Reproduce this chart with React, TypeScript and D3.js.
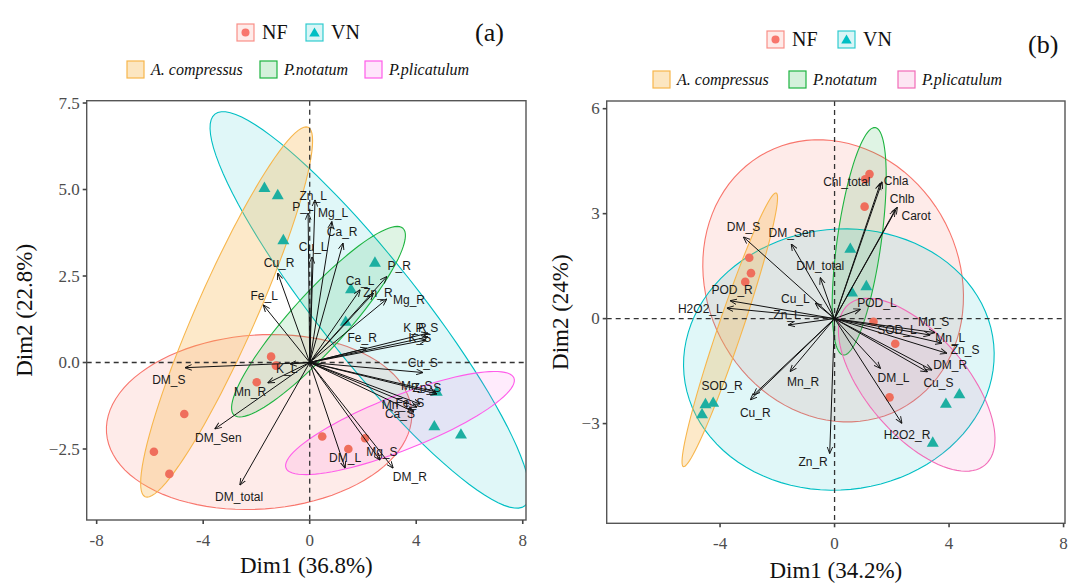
import React from 'react';
import * as d3 from 'd3';

// individuals: [treatment, species, Dim1, Dim2]
const indA = [
  ['NF', 'A. compressus', -4.71, -1.49],
  ['NF', 'A. compressus', -5.85, -2.58],
  ['NF', 'A. compressus', -5.27, -3.22],
  ['NF', 'P.notatum', -1.45, 0.17],
  ['NF', 'P.notatum', -1.27, -0.09],
  ['NF', 'P.notatum', -1.99, -0.57],
  ['NF', 'P.plicatulum', 0.47, -2.14],
  ['NF', 'P.plicatulum', 1.45, -2.5],
  ['NF', 'P.plicatulum', 2.08, -2.19],
  ['VN', 'A. compressus', -1.7, 5.03],
  ['VN', 'A. compressus', -1.2, 4.82],
  ['VN', 'A. compressus', -0.99, 3.52],
  ['VN', 'P.notatum', 1.55, 2.1],
  ['VN', 'P.notatum', 2.45, 2.87],
  ['VN', 'P.notatum', 1.35, 1.16],
  ['VN', 'P.plicatulum', 4.77, -0.86],
  ['VN', 'P.plicatulum', 4.68, -1.86],
  ['VN', 'P.plicatulum', 5.68, -2.1],
];

const indB = [
  ['NF', 'A. compressus', -2.98, 1.74],
  ['NF', 'A. compressus', -2.92, 1.3],
  ['NF', 'A. compressus', -3.12, 1.05],
  ['NF', 'P.notatum', 1.22, 4.13],
  ['NF', 'P.notatum', 1.07, 3.98],
  ['NF', 'P.notatum', 1.05, 3.2],
  ['NF', 'P.plicatulum', 1.36, -0.09],
  ['NF', 'P.plicatulum', 2.12, -0.72],
  ['NF', 'P.plicatulum', 1.92, -2.25],
  ['VN', 'A. compressus', -4.51, -2.46],
  ['VN', 'A. compressus', -4.24, -2.42],
  ['VN', 'A. compressus', -4.63, -2.75],
  ['VN', 'P.notatum', 0.55, 1.98],
  ['VN', 'P.notatum', 1.11, 0.91],
  ['VN', 'P.notatum', 0.61, 0.73],
  ['VN', 'P.plicatulum', 4.36, -2.18],
  ['VN', 'P.plicatulum', 3.89, -2.45],
  ['VN', 'P.plicatulum', 3.43, -3.56],
];

// variables: [name, arrow x, arrow y, label x, label y]
const varsA = [
  ['Zn_L', 0.2, 4.7, 0.13, 4.8],
  ['P_L', -0.06, 4.32, -0.25, 4.5],
  ['Mg_L', 0.83, 4.07, 0.88, 4.32],
  ['Ca_R', 1.25, 3.45, 1.22, 3.77],
  ['Cu_L', 0.09, 3.05, 0.13, 3.34],
  ['Cu_R', -1.2, 2.58, -1.15, 2.87],
  ['Fe_L', -1.74, 1.66, -1.71, 1.92],
  ['Ca_L', 1.89, 2.1, 1.89, 2.36],
  ['P_R', 2.89, 2.48, 3.36, 2.79],
  ['Zn_R', 2.39, 2.0, 2.56, 2.02],
  ['Mg_R', 2.89, 1.83, 3.73, 1.81],
  ['Fe_R', 2.14, 0.41, 1.97, 0.71],
  ['K_R', 4.44, 0.74, 3.95, 0.99],
  ['P_S', 4.44, 0.85, 4.4, 0.99],
  ['K_S', 4.37, 0.65, 4.14, 0.71],
  ['Cu_S', 4.25, -0.29, 4.25, 0.0],
  ['Mn_S', 4.74, -0.85, 4.02, -0.69],
  ['Zn_S', 4.78, -0.91, 4.4, -0.74],
  ['Fe_S', 4.14, -1.2, 3.76, -1.17],
  ['Mn_L', 4.03, -1.29, 3.27, -1.23],
  ['Ca_S', 3.91, -1.43, 3.39, -1.49],
  ['Mg_S', 2.64, -2.82, 2.71, -2.58],
  ['DM_L', 1.33, -3.05, 1.33, -2.76],
  ['DM_R', 3.13, -3.05, 3.76, -3.3],
  ['K_L', -0.74, -0.04, -0.86, -0.19],
  ['Mn_R', -1.57, -0.59, -2.24, -0.85],
  ['DM_S', -4.68, -0.15, -5.29, -0.51],
  ['DM_Sen', -3.56, -1.92, -3.43, -2.19],
  ['DM_total', -2.62, -3.54, -2.65, -3.88],
];

const varsB = [
  ['Chl_total', 1.6, 3.87, 0.43, 3.9],
  ['Chla', 1.66, 3.91, 2.15, 3.94],
  ['Chlb', 2.19, 3.18, 2.36, 3.41],
  ['Carot', 2.12, 3.11, 2.85, 2.94],
  ['DM_S', -3.18, 2.33, -3.18, 2.61],
  ['DM_Sen', -1.51, 2.13, -1.49, 2.44],
  ['DM_total', -0.5, 1.17, -0.5, 1.49],
  ['POD_R', -3.64, 0.51, -3.58, 0.82],
  ['H2O2_L', -3.76, 0.3, -4.69, 0.27],
  ['Cu_L', -0.67, 0.44, -1.37, 0.55],
  ['Zn_L', -1.61, -0.18, -1.66, 0.11],
  ['POD_L', 0.9, 0.27, 1.48, 0.44],
  ['SOD_L', 3.34, -0.47, 2.18, -0.32],
  ['Mn_S', 3.51, -0.4, 3.46, -0.09],
  ['Mn_L', 3.75, -0.7, 4.04, -0.56],
  ['Zn_S', 3.92, -0.99, 4.56, -0.89],
  ['DM_R', 3.4, -1.47, 4.04, -1.32],
  ['Cu_S', 3.24, -1.52, 3.63, -1.85],
  ['DM_L', 1.6, -1.42, 2.06, -1.7],
  ['H2O2_R', 2.35, -2.99, 2.53, -3.34],
  ['Zn_R', -0.17, -3.85, -0.75, -4.11],
  ['Mn_R', -1.55, -1.51, -1.1, -1.82],
  ['Cu_R', -2.94, -2.32, -2.77, -2.7],
  ['SOD_R', -2.83, -2.18, -3.93, -1.94],
];

// confidence ellipses: [group, centre x, centre y, axis1 x, axis1 y, axis2 x, axis2 y]
const ellA = [
  ['NF', -1.9, -1.72, 5.73, 0.31, 0.23, -2.51],
  ['VN', 2.26, 1.52, 5.82, -5.66, 1.47, 0.9],
  ['A. compressus', -3.12, 1.46, 3.06, 5.34, 1.03, -0.35],
  ['P.notatum', 0.33, 1.18, 3.17, 2.7, 0.78, -0.54],
  ['P.plicatulum', 3.39, -1.75, 4.28, 1.3, 0.37, -0.73],
];

const ellB = [
  ['NF', -0.05, 1.08, -0.35, 4.03, 4.54, -0.14],
  ['VN', 0.15, -1.17, 5.41, 0.43, 0.42, -3.71],
  ['A. compressus', -3.66, -0.32, 1.62, 3.91, 0.4, -0.11],
  ['P.notatum', 0.86, 2.21, 0.56, 3.25, 0.76, -0.09],
  ['P.plicatulum', 2.87, -1.89, 2.39, -2.29, 1.33, 0.93],
];

const treatments = ['NF', 'VN'];
const species = ['A. compressus', 'P.notatum', 'P.plicatulum'];

const strokeCol = {
  NF: '#F8766D', VN: '#00BFC4',
  'A. compressus': '#F7B64C', 'P.notatum': '#1DB440', 'P.plicatulum': '#FF5CEA',
};
const fillAlpha = {
  NF: 0.15, VN: 0.12, 'A. compressus': 0.3, 'P.notatum': 0.14, 'P.plicatulum': 0.12,
};
const pointCol = { NF: '#EF6E5C', VN: '#1DAFA1' };

const serif = '"Liberation Serif", "DejaVu Serif", serif';
const sans = '"Liberation Sans", Arial, sans-serif';

function ellipsePath(e, x, y) {
  const [, cx, cy, ax, ay, bx, by] = e;
  const pts = d3.range(0, 97).map(i => {
    const t = (i / 96) * 2 * Math.PI;
    return [cx + ax * Math.cos(t) + bx * Math.sin(t), cy + ay * Math.cos(t) + by * Math.sin(t)];
  });
  return d3.line().x(d => x(d[0])).y(d => y(d[1])).curve(d3.curveLinearClosed)(pts);
}

const Biplot = ({ id, ind, vars, ells, xDom, yDom, box, xTicks, yTicks, yFmt, xTitle, yTitle, yTitleX, xTitleY, ppCol }) => {
  const [l, t, r, b] = box;
  const x = d3.scaleLinear().domain(xDom).range([l, r]);
  const y = d3.scaleLinear().domain(yDom).range([b, t]);
  const col = g => (g === 'P.plicatulum' && ppCol ? ppCol : strokeCol[g]);
  const tri = d3.symbol(d3.symbolTriangle, 62)();

  return (
    <g>
      <defs>
        <clipPath id={`clip-${id}`}>
          <rect x={l} y={t} width={r - l} height={b - t} />
        </clipPath>
        <marker id={`arr-${id}`} viewBox="0 0 10 10" refX="9.5" refY="5" markerWidth="7" markerHeight="7" orient="auto">
          <path d="M0,1 L10,5 L0,9" fill="none" stroke="#111" strokeWidth="1.3" />
        </marker>
      </defs>
      <g clipPath={`url(#clip-${id})`}>
        {ells.map(e => (
          <path key={e[0]} d={ellipsePath(e, x, y)} fill={col(e[0])} fillOpacity={fillAlpha[e[0]]}
            stroke={col(e[0])} strokeWidth={1.1} />
        ))}
        <line x1={x(0)} x2={x(0)} y1={t} y2={b} stroke="#333" strokeWidth={1.3} strokeDasharray="5,4" />
        <line x1={l} x2={r} y1={y(0)} y2={y(0)} stroke="#333" strokeWidth={1.3} strokeDasharray="5,4" />
        {ind.map((p, i) => p[0] === 'NF'
          ? <circle key={i} cx={x(p[2])} cy={y(p[3])} r={4.3} fill={pointCol.NF} />
          : <path key={i} d={tri} transform={`translate(${x(p[2])},${y(p[3])})`} fill={pointCol.VN} />
        )}
        {vars.map(v => (
          <line key={v[0]} x1={x(0)} y1={y(0)} x2={x(v[1])} y2={y(v[2])} stroke="#111" strokeWidth={1}
            markerEnd={`url(#arr-${id})`} />
        ))}
        {vars.map(v => (
          <text key={v[0]} x={x(v[3])} y={y(v[4])} textAnchor="middle" dominantBaseline="central"
            fontFamily={sans} fontSize={12} fill="#1a1a1a">{v[0]}</text>
        ))}
      </g>
      <rect x={l} y={t} width={r - l} height={b - t} fill="none" stroke="#555" strokeWidth={1.4} />
      {yTicks.map(v => (
        <g key={v}>
          <line x1={l - 4} x2={l} y1={y(v)} y2={y(v)} stroke="#444" strokeWidth={1.6} />
          <text x={l - 7} y={y(v)} textAnchor="end" dominantBaseline="central" fontFamily={serif}
            fontSize={17} fill="#4d4d4d">{yFmt(v)}</text>
        </g>
      ))}
      {xTicks.map(v => (
        <g key={v}>
          <line x1={x(v)} x2={x(v)} y1={b} y2={b + 4} stroke="#444" strokeWidth={1.6} />
          <text x={x(v)} y={b + 26} textAnchor="middle" fontFamily={serif} fontSize={17} fill="#4d4d4d">{v}</text>
        </g>
      ))}
      <text x={(l + r) / 2} y={xTitleY} textAnchor="middle" fontFamily={serif} fontSize={23} fill="#111">{xTitle}</text>
      <text transform={`translate(${yTitleX},${(t + b) / 2}) rotate(-90)`} textAnchor="middle"
        dominantBaseline="central" fontFamily={serif} fontSize={23} fill="#111">{yTitle}</text>
    </g>
  );
};

const Legend = ({ row1, row2, ppCol }) => {
  const tri = d3.symbol(d3.symbolTriangle, 48)();
  const col = g => (g === 'P.plicatulum' && ppCol ? ppCol : strokeCol[g]);
  return (
    <g>
      {treatments.map((g, i) => (
        <g key={g} transform={`translate(${row1.xs[i]},${row1.y})`}>
          <rect x={0} y={0} width={17} height={17} fill={strokeCol[g]} fillOpacity={0.15}
            stroke={strokeCol[g]} strokeOpacity={0.8} strokeWidth={1.2} />
          {g === 'NF'
            ? <circle cx={8.5} cy={8.5} r={4} fill={strokeCol.NF} />
            : <path d={tri} transform="translate(8.5,9.5)" fill={strokeCol.VN} />}
          <text x={25} y={15} fontFamily={serif} fontSize={20} fill="#111">{g}</text>
        </g>
      ))}
      {species.map((g, i) => (
        <g key={g} transform={`translate(${row2.xs[i]},${row2.y})`}>
          <rect x={0} y={0} width={17} height={17} fill={col(g)} fillOpacity={fillAlpha[g] + 0.05}
            stroke={col(g)} strokeWidth={1.2} />
          <text x={24} y={13.5} fontFamily={serif} fontStyle="italic" fontSize={16} fill="#111">{g}</text>
        </g>
      ))}
    </g>
  );
};

export default function App() {
  return (
    <svg width={1068} height={583} style={{ position: 'absolute', left: 0, top: 0, background: '#fff' }}>
      <Legend row1={{ xs: [237, 306], y: 24 }} row2={{ xs: [127, 260, 365], y: 61 }} />
      <text x={475} y={41} fontFamily={serif} fontSize={26} fill="#111">(a)</text>
      <Biplot id="a" ind={indA} vars={varsA} ells={ellA}
        xDom={[-8.374, 8.122]} yDom={[-4.552, 7.567]} box={[86.7, 100.7, 526, 520]}
        xTicks={[-8, -4, 0, 4, 8]} yTicks={[-2.5, 0, 2.5, 5, 7.5]} yFmt={d3.format('.1f')}
        xTitle="Dim1 (36.8%)" yTitle="Dim2 (22.8%)" yTitleX={24} xTitleY={573} />

      <Legend row1={{ xs: [767, 838], y: 31 }} row2={{ xs: [653, 789, 898], y: 71 }} ppCol="#F26BB8" />
      <text x={1028} y={53} fontFamily={serif} fontSize={26} fill="#111">(b)</text>
      <Biplot id="b" ind={indB} vars={varsB} ells={ellB} ppCol="#F26BB8"
        xDom={[-7.96, 8.05]} yDom={[-5.85, 6.22]} box={[606.7, 101, 1065, 523.3]}
        xTicks={[-4, 0, 4, 8]} yTicks={[-3, 0, 3, 6]} yFmt={d3.format('d')}
        xTitle="Dim1 (34.2%)" yTitle="Dim2 (24%)" yTitleX={560} xTitleY={578} />
    </svg>
  );
}
